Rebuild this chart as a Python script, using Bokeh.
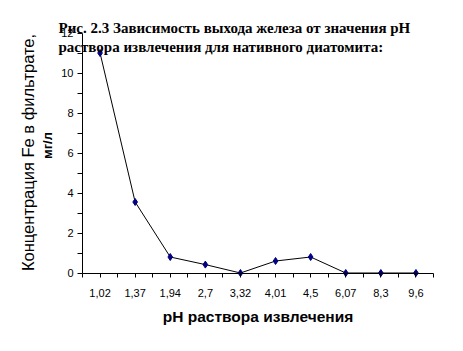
import math
from bokeh.plotting import figure
from bokeh.models import Range1d, FixedTicker, Label
from bokeh.embed import file_html
from bokeh.resources import INLINE

ph_labels = ["1,02", "1,37", "1,94", "2,7", "3,32", "4,01", "4,5", "6,07", "8,3", "9,6"]
fe_conc = [11.0, 3.55, 0.8, 0.42, 0.0, 0.6, 0.8, 0.0, 0.0, 0.0]
y_major = [0, 2, 4, 6, 8, 10, 12]
y_minor = [1, 3, 5, 7, 9, 11]
title_lines = ["Рис. 2.3 Зависимость выхода железа от значения pH",
               "раствора извлечения для нативного диатомита:"]
y_title = ["Концентрация Fe в фильтрате,", "мг/л"]
x_title = "pH раствора извлечения"

n = len(ph_labels)
xs = [i + 0.5 for i in range(n)]
y_max = y_major[-1]

W, H = 463, 351
# pixel box of the axes area within the canvas
AX_L, AX_R, AX_T, AX_B = 82, 433, 32.5, 272.5
px_x = (AX_R - AX_L) / n
px_y = (AX_B - AX_T) / y_max

p = figure(width=W, height=H, output_backend="svg", toolbar_location=None,
           x_range=Range1d(-AX_L / px_x, n + (W - AX_R) / px_x),
           y_range=Range1d(-(H - AX_B) / px_y, y_max + AX_T / px_y),
           min_border=0)
p.outline_line_color = None
p.grid.visible = False
p.background_fill_color = "white"
p.border_fill_color = "white"

p.line(xs, fe_conc, line_color="black", line_width=1)
p.scatter(xs, fe_conc, marker="diamond", size=7, fill_color="#000080", line_color="#000080")

xa = p.xaxis[0]
xa.fixed_location = 0
xa.bounds = (0, n)
xa.ticker = FixedTicker(ticks=xs, minor_ticks=list(range(n + 1)))
xa.major_label_overrides = {x: lbl for x, lbl in zip(xs, ph_labels)}
xa.major_tick_in = 0
xa.major_tick_out = 4
xa.minor_tick_in = 0
xa.minor_tick_out = 4
xa.major_label_standoff = 12
xa.major_label_text_font = "Liberation Sans"
xa.major_label_text_font_size = "11px"
xa.major_label_text_color = "black"
xa.axis_label = x_title
xa.axis_label_text_font = "Liberation Sans"
xa.axis_label_text_font_size = "15.5px"
xa.axis_label_text_font_style = "bold"
xa.axis_label_text_color = "black"
xa.axis_label_standoff = 7
xa.axis_line_color = "black"

ya = p.yaxis[0]
ya.fixed_location = 0
ya.bounds = (0, y_max)
ya.ticker = FixedTicker(ticks=y_major, minor_ticks=y_minor)
ya.major_tick_in = 0
ya.major_tick_out = 5
ya.minor_tick_in = 0
ya.minor_tick_out = 5
ya.major_label_standoff = 4
ya.major_label_text_font = "Liberation Sans"
ya.major_label_text_font_size = "11px"
ya.major_label_text_color = "black"
ya.axis_line_color = "black"


def sy(cy):
    return H - cy


# Title (overlapping the plot, like the reference)
for i, t in enumerate(title_lines):
    p.add_layout(Label(x=58, y=sy(27 + 19 * i), x_units="screen", y_units="screen",
                       text=t, text_font="Liberation Serif", text_font_style="bold",
                       text_font_size="15px", text_color="black",
                       text_baseline="alphabetic", text_align="left"))

# Y axis title, two lines rotated
p.add_layout(Label(x=27, y=sy(152), x_units="screen", y_units="screen",
                   text=y_title[0], angle=math.pi / 2, text_font="Liberation Sans",
                   text_font_size="16.5px", text_color="black",
                   text_align="center", text_baseline="alphabetic"))
p.add_layout(Label(x=47, y=sy(145), x_units="screen", y_units="screen",
                   text=y_title[1], angle=math.pi / 2, text_font="Liberation Sans",
                   text_font_style="bold", text_font_size="13px", text_color="black",
                   text_align="center", text_baseline="alphabetic"))

open("out.html", "w").write(file_html(p, INLINE))
